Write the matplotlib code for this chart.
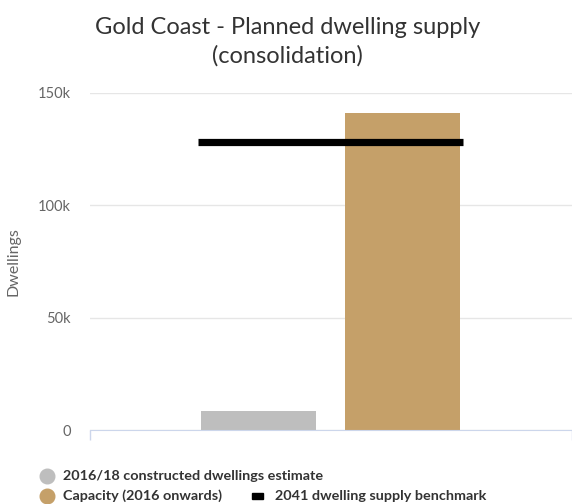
import matplotlib
matplotlib.use('Agg')
import matplotlib.pyplot as plt
from matplotlib.lines import Line2D
from matplotlib.patches import Rectangle
from matplotlib.ticker import FuncFormatter

plt.rcParams['font.family'] = ['Lato', 'DejaVu Sans']

series_names = ['2016/18 constructed dwellings estimate', 'Capacity (2016 onwards)']
series_values = [8500, 141000]
series_colors = ['#bebebe', '#c5a069']
benchmark_name = '2041 dwelling supply benchmark'
benchmark_value = 128000
y_ticks = [0, 50000, 100000, 150000]

fig = plt.figure(figsize=(5.72, 5.04), dpi=100)
ax = fig.add_axes([90 / 572, 1 - 430 / 504, 482 / 572, 337 / 504])

offsets = [-0.150, 0.149]
bar_w = 0.239
for off, val, col in zip(offsets, series_values, series_colors):
    ax.bar(off, val, width=bar_w, color=col, zorder=3)

ax.plot([-0.276, 0.274], [benchmark_value, benchmark_value], color='black',
        linewidth=5.2, solid_capstyle='butt', zorder=4)

ax.set_xlim(-0.5, 0.5)
ax.set_ylim(0, 150000)
ax.set_yticks(y_ticks)
ax.yaxis.set_major_formatter(FuncFormatter(lambda v, p: '0' if v == 0 else f'{int(v / 1000)}k'))
ax.grid(axis='y', color='#e6e6e6', linewidth=1, zorder=0)
for s in ['top', 'right', 'left']:
    ax.spines[s].set_visible(False)
ax.spines['bottom'].set_color('#ccd6eb')
ax.spines['bottom'].set_zorder(5)
ax.set_xticks([-0.5, 0.5])
ax.set_xticklabels([])
ax.tick_params(axis='x', length=7, color='#ccd6eb', width=1)
ax.tick_params(axis='y', length=0, pad=14, labelsize=10.5, labelcolor='#666666')
ax.set_ylabel('Dwellings', fontsize=11.5, color='#666666', labelpad=12)

fig.text(0.503, 1 - 27 / 504, 'Gold Coast - Planned dwelling supply', ha='center', va='center',
         fontsize=17, color='#333333')
fig.text(0.503, 1 - 56 / 504, '(consolidation)', ha='center', va='center',
         fontsize=17, color='#333333')

# legend, laid out by hand like the original
def px(x, y):
    return x / 572, 1 - y / 504

for (y, name, col) in [(476, series_names[0], series_colors[0]), (496, series_names[1], series_colors[1])]:
    fig.add_artist(Line2D([px(47, y)[0]], [px(47, y)[1]], marker='o', markersize=10.5,
                          color=col, linestyle='none', transform=fig.transFigure))
    fig.text(*px(63, y), name, ha='left', va='center', fontsize=10.4, fontweight='bold', color='#333333')
fig.add_artist(Rectangle(px(252, 499), 11 / 572, 6 / 504, color='black', transform=fig.transFigure))
fig.text(*px(275, 496), benchmark_name, ha='left', va='center', fontsize=10.4, fontweight='bold', color='#333333')

fig.savefig('out.png', dpi=100)
